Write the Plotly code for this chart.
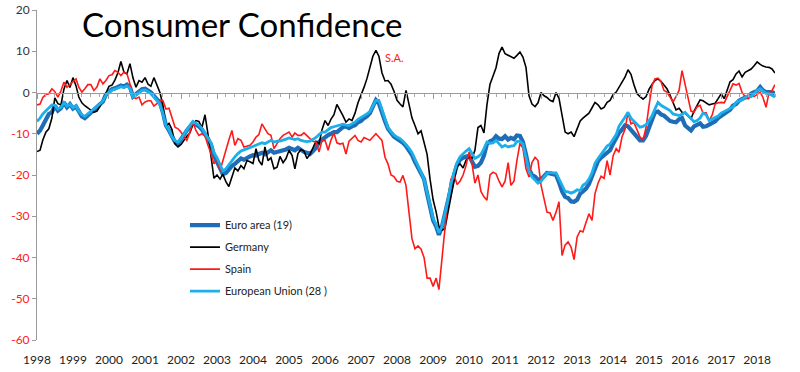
import pandas as pd
import plotly.graph_objects as go

# Monthly data, Jan 1998 .. Jul 2018
euro_area = [
    -10, -9.2, -8, -6.8, -5.2, -4.8, -3.2, -4.4, -3.8, -2.4, -3.6, -2.8,          # 1998
    -3.9, -3.4, -4.8, -5.8, -6.2, -5.5, -5, -4.4, -3.6, -3, -2.2, -0.5,           # 1999
    0.3, 0.8, 1.0, 1.3, 1.7, 1.4, 1.9, 1.3, -1.0, -0.4, 0.2, 0.8,                 # 2000
    0.9, 0.5, 0, -0.8, -1.5, -2.5, -4.8, -8, -9.2, -10.8, -12, -12.4,             # 2001
    -11.5, -10.2, -9.2, -8.2, -7.4, -7.8, -8.2, -9, -10, -11.2, -12.6, -15.2,     # 2002
    -16.8, -18.2, -19.8, -19.5, -18.5, -17.8, -17.3, -16.8, -16, -16.3, -15.8, -15.5,  # 2003
    -15.2, -15.3, -14.9, -14.6, -15, -14.6, -14, -14.6, -14.4, -14.4, -14.2, -13.8,    # 2004
    -13.4, -13.8, -14, -13.4, -14, -14.4, -14.6, -14.9, -14.2, -13.4, -12, -11.4,      # 2005
    -11, -10.3, -10, -9.6, -9.6, -9, -8.4, -8.2, -8.6, -8.2, -7.9, -7.2,               # 2006
    -6.9, -6.2, -5.8, -5, -3.3, -1.8, -2.6, -5.2, -7, -8.8, -9.8, -10.7,               # 2007
    -11.2, -11.6, -12.2, -13, -14, -15.2, -16.8, -18.4, -19.6, -21, -24.5, -27.5,      # 2008
    -31, -32.5, -34.5, -32.5, -29.5, -26, -22.5, -20, -17.5, -16.3, -15.8, -15.5,      # 2009
    -15.3, -16.8, -18, -17.8, -17, -15.3, -12.5, -11.8, -11.5, -10.6, -11.2, -11.3,    # 2010
    -10.6, -11.4, -11, -11.3, -10.4, -10.5, -12, -15, -18.6, -20, -20.4, -21.2,        # 2011
    -21, -20.3, -19.5, -19.6, -19.8, -20, -21.8, -24, -25.3, -25.6, -26.4, -26.5,      # 2012
    -26, -24.5, -24, -23.3, -22.2, -20.3, -17.8, -16.6, -15.8, -15.3, -14.6, -14,      # 2013
    -12.4, -11, -9.8, -9, -8, -8.2, -9, -10, -10.8, -11.6, -11.6, -10.5,               # 2014
    -8.5, -6.5, -4.8, -4.6, -5.3, -5.6, -6.4, -6.9, -7.1, -7.2, -6.5, -6.2,            # 2015
    -8, -8.8, -9.2, -8.2, -7.8, -7.5, -8.3, -8.2, -7.8, -7.4, -7, -6.2,                # 2016
    -5.7, -5.2, -4.9, -4.2, -3.2, -2.8, -2, -1.6, -1.2, -1.1, -0.3, 0.1,               # 2017
    0.4, 1.3, 0.5, 0.1, 0.1, 0.1, -0.3,                                                # 2018
]

germany = [
    -14.3, -14, -11.5, -9.6, -8.8, -6.2, -1.3, -2.7, -3, 0.8, 2.9, 1.2,           # 1998
    3.6, 1.6, -1.1, -2.5, -3.2, -3.8, -4.3, -4.8, -4.5, -3.4, -1.8, -0.2,         # 1999
    1.5, 1.8, 3, 4.8, 7.5, 4.9, 4.5, 7, 3.5, 1.3, 2.9, 2.5,                       # 2000
    3.6, 2, 1.5, 3.6, 2, 0, -3, -8.2, -7.5, -9, -12.5, -13.2,                     # 2001
    -12.6, -11.4, -10.6, -9.8, -7.8, -6.8, -7, -8.5, -5.4, -10, -15.5, -20.8,     # 2002
    -20, -21, -19.8, -21.6, -22.8, -20.4, -18.3, -19, -17.7, -18.5, -16.5, -16.8, # 2003
    -17.2, -13.6, -16.5, -17.6, -13.2, -16.5, -15.8, -18.5, -18.1, -15.5, -17, -16,  # 2004
    -14, -15.3, -18.5, -14.8, -13.8, -14.2, -16, -15, -13.5, -11.8, -12.4, -9,       # 2005
    -6.8, -8, -6.5, -5.4, -2.9, -4.2, -5.6, -7.2, -6.4, -6.8, -5, -2.5,              # 2006
    -0.8, 1.3, 3.3, 6, 8.8, 10.2, 8.8, 4.8, 2.8, 2.9, 2, 0.3,                        # 2007
    -1.9, -2.8, -3.5, 0.5, -3, -6.2, -8, -10, -9.3, -12, -15, -21,                   # 2008
    -26, -29, -32.5, -33.4, -33, -29, -25, -21.5, -18, -17.3, -18.3, -16.4,          # 2009
    -15.7, -15.9, -14, -8.5, -8, -9.8, -3, 2, 4, 6, 9.5, 11,                         # 2010
    9.4, 9, 8.8, 8.3, 9, 9.8, 8.6, 6.1, -0.8, -2.8, -3.4, -2.5,                      # 2011
    0, -0.8, -1.2, -1.9, -2.2, 0, -1.4, -6, -9.6, -10, -9.6, -10.7,                  # 2012
    -9, -6.9, -6.2, -5.6, -5, -3.7, -2.4, -3, -4, -3.6, -2.4, -1.9,                  # 2013
    -0.5, 0.1, 1.2, 2.6, 3.7, 5.5, 4.4, 1.8, -0.3, -1, -1.6, -1,                     # 2014
    0.8, 2, 2.9, 3.3, 2.7, 1.8, 0.9, -0.6, -2.7, -4.2, -3.8, -4.8,                   # 2015
    -5, -5.8, -6.4, -4.5, -3, -1.8, -2, -2.5, -3, -2.8, -2.6, -1.5,                  # 2016
    -0.3, -1.5, 0.4, 2.6, 3.1, 4.5, 5.2, 3.8, 4.9, 5.4, 5.7, 6.5,                    # 2017
    7.4, 6.8, 6.4, 6.2, 6.1, 5.7, 4.7,                                               # 2018
]

spain = [
    -3, -2.8, -1.2, -0.5, -0.3, 0.9, 0.2, -1.1, 0.4, 2.5, 1.3, 2,                 # 1998
    2.8, 3.3, 1.3, 0.1, 0.9, 1.9, 1.9, 0.5, 1.3, 3.3, 2.1, 2.9,                   # 1999
    4.1, 4.3, 5.3, 4.9, 4.1, 4.9, 4.6, 2.1, -1.1, -1.5, -1.1, -3,                 # 2000
    -2.3, -2, -2, -3.3, -2.7, -1.8, -2, -4, -3.8, -6, -8.4, -8.8,                 # 2001
    -9.6, -10.8, -11.6, -9.6, -7.2, -9.2, -10.4, -10, -10.5, -12.8, -14.8, -17.3, # 2002
    -16, -18.9, -16.5, -13.6, -11.5, -9.2, -12.8, -11.2, -11.6, -13.2, -13, -12.8, # 2003
    -12, -10.8, -10.2, -7.6, -8.8, -10, -10.4, -13.6, -12.4, -11.2, -10.4, -10,    # 2004
    -9.6, -10.8, -9.8, -10.4, -10.4, -9.8, -10.6, -11.2, -11.8, -12, -14.4, -11.6, # 2005
    -11.6, -14, -11.6, -9.8, -12.2, -12.5, -12.3, -14.9, -11.8, -11, -10.4, -11.6, # 2006
    -12, -10.9, -11.2, -11.6, -10.8, -10, -10.8, -11.6, -15.7, -17.3, -20, -20.4,  # 2007
    -21.5, -21.7, -20.1, -22.5, -29, -35.5, -37.9, -37.2, -38, -40, -45, -45,      # 2008
    -47, -45, -47.8, -40, -32.5, -25.5, -21, -20, -22.3, -21.5, -20, -17.7,        # 2009
    -14.4, -17.5, -22, -20, -24, -25.3, -26.1, -20, -19.3, -19.7, -21.5, -22.9,    # 2010
    -21.5, -17, -22.5, -21.5, -16.5, -12.3, -13.5, -18.5, -20.5, -17, -15.7, -16.5, # 2011
    -22.5, -26, -29, -29.2, -31, -29, -26.5, -39.5, -37, -36.2, -37.5, -40.5,      # 2012
    -35, -33.5, -33.8, -31.5, -29.4, -31, -24.5, -22, -20.3, -20.8, -16.5, -20,    # 2013
    -15.3, -13.6, -14.5, -10.8, -9, -4.8, -7.6, -7.3, -9.3, -10.8, -11.5, -8.5,    # 2014
    -3, 1.8, 3.3, 3.5, 2.7, 0.5, 0.1, -1, -2.3, -1, 0.5, 5.3,                      # 2015
    2, -1.8, -4.5, -4.8, -3.5, -3.1, -5, -4.9, -6.8, -5.5, -2.8, -2.5,             # 2016
    -2.4, -2.5, -1, 0.6, 2.1, 1.8, 2.2, 0, -1, -1.5, -0.8, -1,                     # 2017
    -0.5, 0.1, -1.2, -3.6, 0, 0.5, 1.9,                                            # 2018
]

european_union = [
    -7, -6.2, -5.2, -4.5, -3.8, -3, -3.1, -4, -3.6, -2.4, -3.3, -2.8,             # 1998
    -3.7, -3.2, -4.5, -5.4, -5.8, -5.2, -4.8, -4.2, -3.4, -2.8, -2, -0.6,         # 1999
    0.1, 0.6, 0.8, 1.1, 1.4, 1.2, 1.6, 1.0, -1.1, -0.6, 0, 0.5,                   # 2000
    0.6, 0.2, -0.2, -1, -1.8, -2.8, -5, -8, -9, -10.6, -11.7, -12,                # 2001
    -11.2, -10, -9, -8, -7, -7.4, -7.9, -8.7, -9.8, -11, -12.3, -14.6,            # 2002
    -15.8, -17.5, -19, -18.5, -17.5, -16.6, -15.6, -14.8, -14.2, -13.9, -13.6, -13.3, # 2003
    -13, -12.8, -12.4, -12.2, -12.4, -12, -11.6, -12, -11.8, -11.8, -11.6, -11.3,     # 2004
    -11, -11.2, -11.4, -11.2, -11.6, -11.8, -11.9, -11.8, -11.4, -10.9, -10.2, -9.6,  # 2005
    -9.6, -9, -8.5, -8.3, -8.1, -7.9, -7.7, -7.9, -8, -7.6, -7.2, -6.5,               # 2006
    -6.1, -5.6, -5.2, -4.6, -3.1, -1.9, -1.9, -4, -6.5, -8.5, -9.5, -10.3,            # 2007
    -10.8, -11.2, -11.8, -12.6, -13.5, -14.6, -16.3, -18, -19.4, -21, -24, -27,       # 2008
    -30.5, -32, -34, -32.5, -29.5, -26, -22, -19.5, -17, -15.6, -14.8, -14.2,         # 2009
    -13.6, -15, -16, -15.6, -15, -13.6, -12, -12.3, -12.2, -11.6, -12.3, -13.2,       # 2010
    -12.8, -13.2, -13, -12.9, -11.9, -11.8, -12.5, -15.5, -19, -20.5, -21.2, -22,     # 2011
    -21.5, -20.5, -19.6, -19.3, -19.5, -19.5, -21, -22.8, -24, -24.1, -24.4, -24.1,   # 2012
    -23.6, -23.8, -22.5, -22, -21, -19.5, -17.2, -16, -15, -14.3, -13, -12.5,         # 2013
    -11.3, -10.2, -8.2, -7.2, -6, -4.8, -6.2, -7, -7.6, -8.4, -8.2, -7.8,             # 2014
    -6.8, -5.6, -4, -2.4, -3.1, -3.6, -4, -4.4, -5.2, -5.4, -5.6, -5.3,               # 2015
    -4.8, -5.6, -6.4, -7.1, -6.8, -6.2, -5, -5.4, -6.8, -6.5, -6.1, -5.7,             # 2016
    -5, -4.6, -4.2, -3.8, -3.5, -2.4, -2.1, -1.7, -1.2, -0.8, -1, -0.3,               # 2017
    0.5, 0.9, 0.4, -0.2, -0.3, -0.7, -1.1,                                            # 2018
]

dates = pd.date_range("1998-01-01", periods=len(euro_area), freq="MS")
year_ticks = [str(y) for y in range(1998, 2019)]
y_ticks = [20, 10, 0, -10, -20, -30, -40, -50, -60]

FONT = "Lato"
RED = "#FF1A1A"
W, H = 800, 372

fig = go.Figure()
series = [
    ("Euro area (19)", euro_area, "#1E6DB6", 4.2),
    ("Germany", germany, "#000000", 1.6),
    ("Spain", spain, RED, 1.6),
    ("European Union (28 )", european_union, "#1CAFEA", 2.8),
]
for i, (name, vals, col, w) in enumerate(series):
    fig.add_trace(go.Scatter(x=dates, y=vals, mode="lines", name=name,
                             legendgroup=f"g{i}",
                             line=dict(color=col, width=w)))

# dummy trace to anchor the zero-line axis
fig.add_trace(go.Scatter(x=[dates[0]], y=[None], xaxis="x2", showlegend=False,
                         hoverinfo="skip", mode="lines"))

rng = [dates[0], dates[-1]]

ticktext = []
for v in y_ticks:
    c = "#333333" if v >= 0 else RED
    ticktext.append(f"<span style='color:{c}'>{v}</span>")

fig.update_layout(
    width=W, height=H,
    margin=dict(l=37, r=25, t=10, b=32, autoexpand=False),
    plot_bgcolor="white", paper_bgcolor="white",
    font=dict(family=FONT, size=12, color="#222222"),
    title=dict(text="Consumer Confidence", x=82/W, xanchor="left",
               y=1 - 25/H, yanchor="middle", automargin=False,
               font=dict(family=FONT, size=33, color="#000000")),
    showlegend=True,
    legend=dict(x=0.2005, y=0.392, xanchor="left", yanchor="top",
                font=dict(family=FONT, size=11, color="#222222"),
                bgcolor="rgba(0,0,0,0)", itemwidth=30, tracegroupgap=3),
    xaxis=dict(range=rng, showgrid=False, zeroline=False, showline=False,
               automargin=False, tickmode="array",
               tickvals=[f"{y}-01-01" for y in year_ticks], ticktext=year_ticks,
               ticks="outside", ticklen=9, tickcolor="rgba(0,0,0,0)",
               tickfont=dict(family=FONT, size=12, color="#222222")),
    xaxis2=dict(range=rng, overlaying="x", anchor="free", position=0.75,
                automargin=False,
                showgrid=False, zeroline=False, showline=True,
                linecolor="#9A9A9A", linewidth=1,
                showticklabels=False, ticks="outside", ticklen=5,
                tickcolor="#9A9A9A", dtick="M12", tick0="1998-01-01",
                minor=dict(dtick="M3", ticks="outside", ticklen=3,
                           tickcolor="#AAAAAA", showgrid=False)),
    yaxis=dict(range=[-60, 20], showgrid=False, zeroline=False, showline=True,
               automargin=False,
               linecolor="#9A9A9A", linewidth=1, ticks="outside", ticklen=4,
               tickcolor="#9A9A9A", tickmode="array", tickvals=y_ticks,
               ticktext=ticktext, tickfont=dict(family=FONT, size=12)),
)

fig.add_annotation(x="2007-12-10", y=8.5, xref="x", yref="y", text="S.A.",
                   showarrow=False, font=dict(family=FONT, size=11, color=RED))

# remove the default 8px page margin so the figure fills the window exactly
fig.write_html("out.html",
               config={"displayModeBar": False},
               post_script="document.body.style.margin='0px';"
                           "document.body.style.overflow='hidden';")
